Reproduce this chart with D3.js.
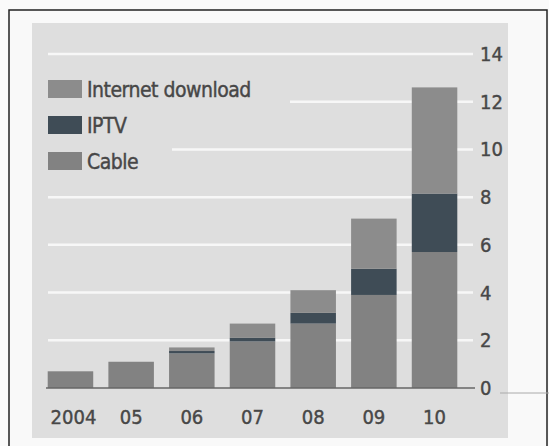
<script src="https://cdnjs.cloudflare.com/ajax/libs/d3/7.8.5/d3.min.js"></script>
<body style="margin:0;background:#fafafa">
<script>
    // data
    var years = ["2004", "05", "06", "07", "08", "09", "10"];
    var cable = [0.7, 1.1, 1.45, 1.95, 2.7, 3.9, 5.7];
    var iptv = [0.0, 0.0, 0.1, 0.15, 0.45, 1.1, 2.45];
    var internet = [0.0, 0.0, 0.15, 0.6, 0.95, 2.1, 4.45];
    var yTicks = [0, 2, 4, 6, 8, 10, 12, 14];
    var seriesNames = ["Internet download", "IPTV", "Cable"];

    var W = 549, H = 446;
    var panelColor = "#dedede";
    var colors = {"Cable": "#828282", "IPTV": "#3f4c56", "Internet download": "#8c8c8c"};
    var font = "'DejaVu Sans Condensed', 'DejaVu Sans', sans-serif";
    var textColor = "#474747";

    var svg = d3.select("body").append("svg")
        .attr("width", W)
        .attr("height", H);

    // frame + grey panel
    svg.append("rect").attr("x", 9).attr("y", 10).attr("width", 538).attr("height", 445)
        .attr("fill", "#f9f9f9").attr("stroke", "#222").attr("stroke-width", 1.5);
    svg.append("rect").attr("x", 32).attr("y", 23).attr("width", 476).attr("height", 415)
        .attr("fill", panelColor);

    var x = d3.scaleBand().domain(years).range([38, 467]).paddingInner(0.25).paddingOuter(0.16);
    var y = d3.scaleLinear().domain([0, 14]).range([388, 54]);

    // gridlines
    svg.selectAll(".grid").data(yTicks.filter(function(d){ return d > 0; }))
        .enter().append("line")
        .attr("x1", 48).attr("x2", 473)
        .attr("y1", function(d){ return y(d); })
        .attr("y2", function(d){ return y(d); })
        .attr("stroke", "#f7f7f7").attr("stroke-width", 2.5);

    // legend background hides part of the grid
    svg.append("rect").attr("x", 45).attr("y", 64).attr("width", 245).attr("height", 78).attr("fill", panelColor);
    svg.append("rect").attr("x", 45).attr("y", 140).attr("width", 127).attr("height", 34).attr("fill", panelColor);

    // stacked bars
    var rows = years.map(function(yr, i) {
        return {year: yr, "Cable": cable[i], "IPTV": iptv[i], "Internet download": internet[i]};
    });
    var stack = d3.stack().keys(["Cable", "IPTV", "Internet download"])(rows);

    svg.selectAll(".layer").data(stack).enter().append("g")
        .attr("fill", function(d){ return colors[d.key]; })
        .selectAll("rect").data(function(d){ return d; })
        .enter().append("rect")
        .attr("x", function(d){ return x(d.data.year); })
        .attr("width", x.bandwidth())
        .attr("y", function(d){ return y(d[1]); })
        .attr("height", function(d){ return y(d[0]) - y(d[1]); });

    // baseline
    svg.append("line").attr("x1", 46).attr("x2", 475).attr("y1", y(0)).attr("y2", y(0))
        .attr("stroke", "#666").attr("stroke-width", 1.5);
    svg.append("line").attr("x1", 500).attr("x2", 549).attr("y1", y(0) + 5).attr("y2", y(0) + 5)
        .attr("stroke", "#aaa").attr("stroke-width", 1);

    function styleText(sel) {
        sel.attr("font-family", font).attr("font-size", 20)
            .attr("fill", textColor)
            .attr("stroke", textColor).attr("stroke-width", 0.4);
    }

    // y axis labels on the right
    svg.selectAll(".ylab").data(yTicks).enter().append("text")
        .attr("x", 480)
        .attr("y", function(d){ return y(d) + 7; })
        .call(styleText)
        .text(function(d){ return d; });

    // x labels
    svg.selectAll(".xlab").data(years).enter().append("text")
        .attr("x", function(d){ return x(d) + x.bandwidth() / 2 + (d === "2004" ? 3 : 0); })
        .attr("y", 424)
        .attr("text-anchor", "middle")
        .call(styleText)
        .text(function(d){ return d; });

    // legend
    var leg = svg.selectAll(".leg").data(seriesNames).enter().append("g")
        .attr("transform", function(d, i){ return "translate(48," + (80 + i * 36) + ")"; });
    leg.append("rect").attr("width", 34).attr("height", 18)
        .attr("fill", function(d){ return colors[d]; });
    leg.append("text").attr("x", 39).attr("y", 17)
        .call(styleText)
        .attr("font-size", 21)
        .attr("letter-spacing", -0.5)
        .text(function(d){ return d; });
</script>
</body>
